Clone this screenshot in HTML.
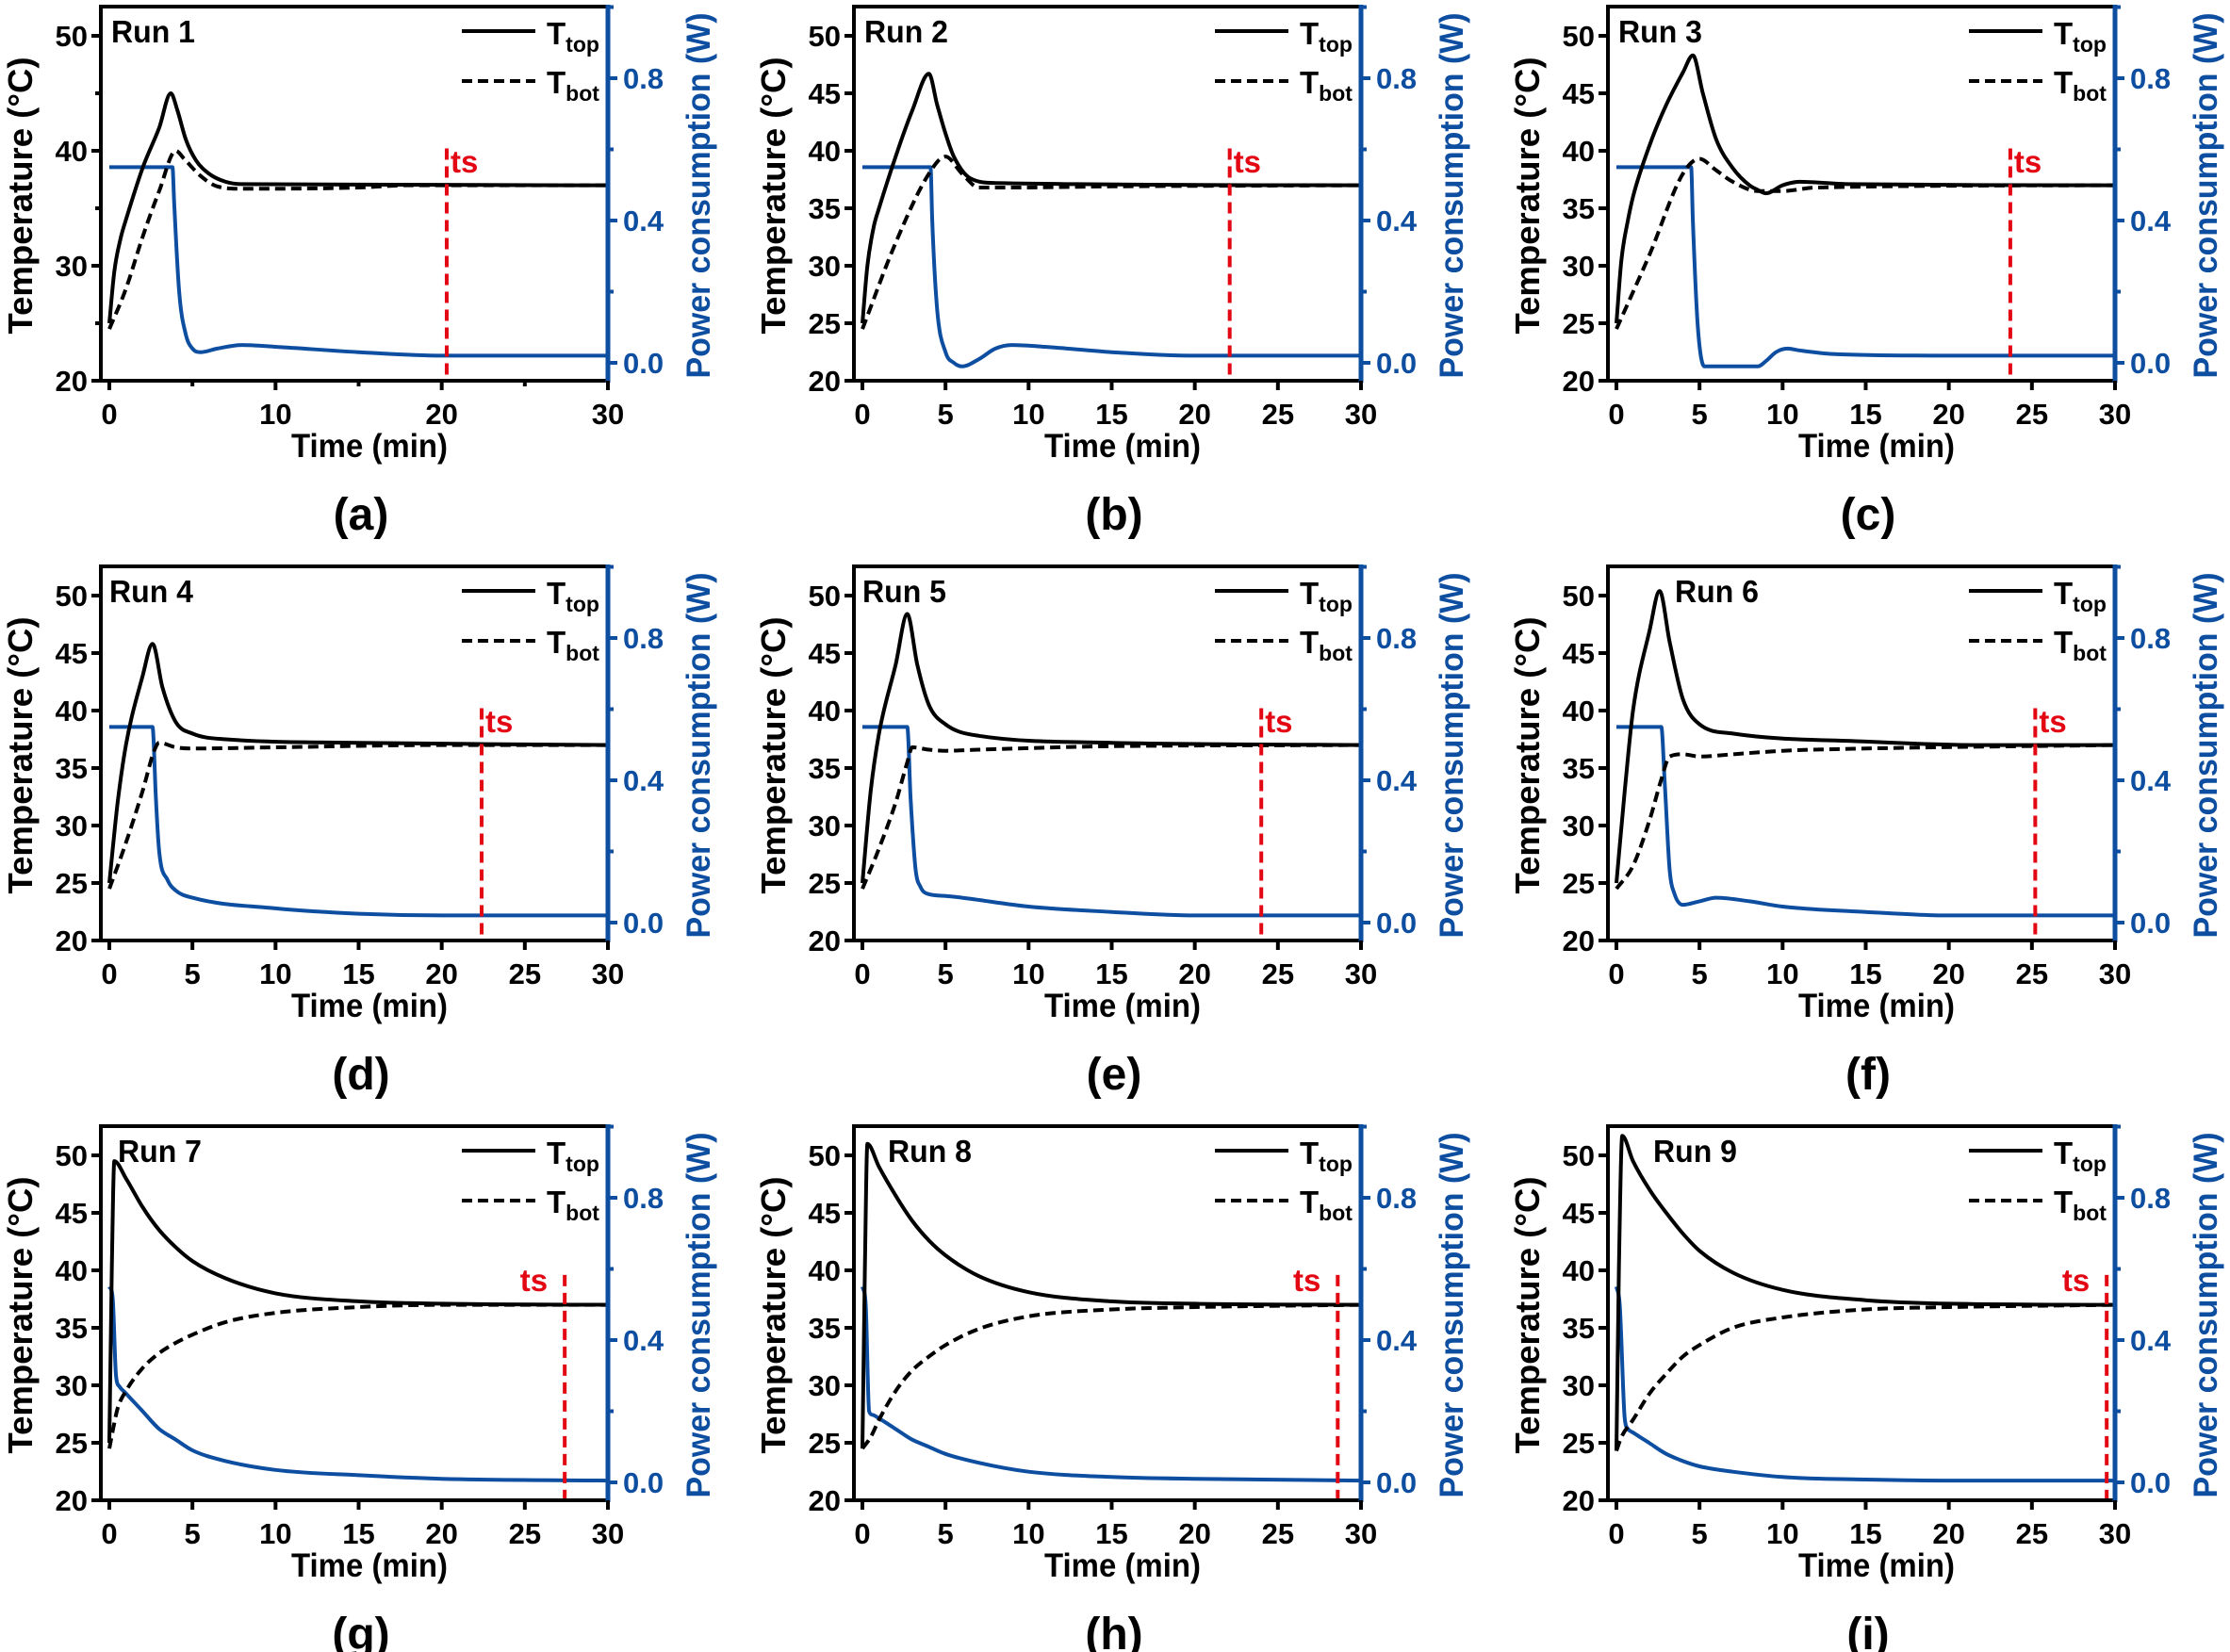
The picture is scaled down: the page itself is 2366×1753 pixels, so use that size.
<!DOCTYPE html>
<html><head><meta charset="utf-8"><style>
html,body{margin:0;padding:0;background:#fff;}
svg{display:block;font-family:"Liberation Sans",Arial,sans-serif;font-weight:bold;}
</style></head><body>
<svg id="fig" width="2366" height="1753" viewBox="0 0 2366 1753" xmlns="http://www.w3.org/2000/svg"></svg>
<script>
// ---- data (time min, value) ----
const run1_top=[[0,25],[0.3,29.5],[0.7,32.5],[1,34],[2,38.5],[3,42],[3.7,45],[4.1,43.5],[4.6,41],[5.2,39.2],[6,38],[7,37.3],[8,37.1],[30,37]];
const run1_bot=[[0,24.5],[1,28],[2,32.5],[3,36.5],[4,40],[4.5,39.3],[5.5,37.8],[6.5,36.9],[8,36.7],[15,36.8],[18,37],[30,37]];
const run1_pow=[[0,0.55],[3.8,0.55],[3.9,0.45],[4.2,0.2],[4.6,0.08],[5,0.04],[5.5,0.03],[6.5,0.04],[8,0.05],[10,0.045],[15,0.03],[20,0.02],[30,0.02]];
const run2_top=[[0,25],[0.3,30],[0.7,33.5],[1,35],[2,39.5],[3,43.5],[4,46.7],[4.5,44],[5,41.5],[5.5,39.5],[6.5,37.6],[8,37.2],[30,37]];
const run2_bot=[[0,24.5],[2,32],[4,38],[5,39.5],[6,38],[7,36.8],[9,36.8],[15,36.9],[30,37]];
const run2_pow=[[0,0.55],[4.1,0.55],[4.2,0.4],[4.5,0.15],[5,0.03],[5.5,0],[6,-0.01],[7,0.01],[8,0.04],[9,0.05],[11,0.045],[15,0.03],[20,0.02],[30,0.02]];
const run3_top=[[0,25],[0.3,30.5],[0.7,34],[1,36],[2,40.5],[3,44],[4,46.8],[4.6,48.3],[5.2,45],[6,41],[7,38.5],[8,37],[8.5,36.6],[9,36.3],[10,37],[11,37.3],[14,37.1],[30,37]];
const run3_bot=[[0,24.5],[2,31],[4,38],[5,39.3],[6,38.3],[7,37.3],[8.5,36.5],[10,36.5],[12,36.8],[30,37]];
const run3_pow=[[0,0.55],[4.5,0.55],[4.6,0.4],[4.9,0.1],[5.3,-0.01],[8.5,-0.01],[9,0.005],[9.6,0.03],[10.3,0.04],[11,0.035],[13,0.025],[20,0.02],[30,0.02]];
const run4_top=[[0,25],[0.5,32],[1,37],[2,43],[2.6,45.8],[3.2,42],[4,39],[5,38],[7,37.5],[15,37.2],[30,37]];
const run4_bot=[[0,24.5],[1,28.5],[2,33],[2.7,36.5],[3,37.2],[4,36.8],[5,36.7],[10,36.8],[20,37],[30,37]];
const run4_pow=[[0,0.55],[2.6,0.55],[2.8,0.35],[3,0.2],[3.5,0.12],[4,0.09],[5,0.07],[10,0.04],[15,0.025],[20,0.02],[30,0.02]];
const run5_top=[[0,25],[0.5,33],[1,38],[2,44],[2.7,48.4],[3.3,44],[4,40.5],[5,38.8],[7,37.8],[15,37.2],[30,37]];
const run5_bot=[[0,24.5],[1,28],[2,32],[2.7,35.5],[3,36.8],[4,36.6],[5,36.5],[7,36.6],[15,36.9],[30,37]];
const run5_pow=[[0,0.55],[2.7,0.55],[2.9,0.35],[3.2,0.15],[3.5,0.1],[4,0.08],[5,0.075],[6,0.07],[10,0.045],[15,0.03],[20,0.02],[30,0.02]];
const run6_top=[[0,25],[0.5,33],[1,40],[2,47],[2.6,50.4],[3.2,46],[4,41],[5,38.8],[7,38],[15,37.3],[22,37],[30,37]];
const run6_bot=[[0,24.5],[1,26.5],[2,30.5],[2.7,34],[3.2,36],[4,36.2],[5,36],[7,36.2],[10,36.5],[15,36.7],[30,37]];
const run6_pow=[[0,0.55],[2.7,0.55],[2.9,0.4],[3.2,0.15],[3.5,0.08],[4,0.05],[5,0.06],[6,0.07],[8,0.06],[10,0.045],[15,0.03],[20,0.02],[30,0.02]];
const run7_top=[[0,25],[0.15,40],[0.3,49.5],[1,48],[2,45.5],[3,43.5],[4,42],[5,40.8],[7,39.3],[10,38],[15,37.3],[20,37.1],[30,37]];
const run7_bot=[[0,24.5],[0.2,26],[0.5,28],[1,29.5],[2,31.5],[3,32.8],[4,33.7],[5,34.4],[7,35.5],[10,36.3],[15,36.8],[20,37],[30,37]];
const run7_pow=[[0,0.55],[0.2,0.52],[0.4,0.3],[0.6,0.27],[1,0.25],[2,0.2],[3,0.15],[4,0.12],[5,0.09],[7,0.06],[10,0.035],[15,0.02],[20,0.01],[30,0.005]];
const run8_top=[[0,24.5],[0.15,40],[0.3,51],[1,49],[2,46.5],[3,44.3],[4,42.6],[5,41.3],[7,39.5],[10,38.1],[15,37.3],[20,37.1],[30,37]];
const run8_bot=[[0,24.5],[0.5,25.5],[1,27],[2,29.5],[3,31.3],[4,32.5],[5,33.5],[7,34.9],[10,36],[15,36.6],[20,36.8],[30,37]];
const run8_pow=[[0,0.55],[0.2,0.5],[0.4,0.2],[0.6,0.19],[1,0.18],[2,0.15],[3,0.12],[4,0.1],[5,0.08],[7,0.055],[10,0.03],[15,0.015],[20,0.01],[30,0.005]];
const run9_top=[[0,24.3],[0.15,40],[0.35,51.7],[1,49.5],[2,47],[3,45],[4,43.2],[5,41.7],[7,39.8],[10,38.3],[15,37.4],[20,37.1],[30,37]];
const run9_bot=[[0,24.3],[0.3,25.5],[1,27],[2,29.3],[3,31],[4,32.5],[5,33.5],[7,35],[10,35.9],[15,36.6],[20,36.8],[30,37]];
const run9_pow=[[0,0.55],[0.2,0.5],[0.5,0.18],[0.7,0.15],[1,0.14],[2,0.11],[3,0.08],[4,0.06],[5,0.045],[7,0.03],[10,0.015],[15,0.008],[20,0.005],[30,0.005]];
const runNames=["Run 1","Run 2","Run 3","Run 4","Run 5","Run 6","Run 7","Run 8","Run 9"];
const panelLabels=["(a)","(b)","(c)","(d)","(e)","(f)","(g)","(h)","(i)"];
const tsValues=[20.3,22.1,23.7,22.4,24.0,25.2,27.4,28.6,29.5];
const tempTicks=[20,25,30,35,40,45,50];
const timeTicks=[0,5,10,15,20,25,30];
const powTicks=[0.0,0.4,0.8];
const powMinor=[0.2,0.6,1.0];

const tops=[run1_top,run2_top,run3_top,run4_top,run5_top,run6_top,run7_top,run8_top,run9_top];
const bots=[run1_bot,run2_bot,run3_bot,run4_bot,run5_bot,run6_bot,run7_bot,run8_bot,run9_bot];
const pows=[run1_pow,run2_pow,run3_pow,run4_pow,run5_pow,run6_pow,run7_pow,run8_pow,run9_pow];

const NS="http://www.w3.org/2000/svg";
const svg=document.getElementById('fig');
const BLUE="#0d4ea0", RED="#e30613";
function mk(tag,attrs,parent,text){const e=document.createElementNS(NS,tag);for(const k in attrs)e.setAttribute(k,attrs[k]);if(text!==undefined)e.textContent=text;parent.appendChild(e);return e;}

// monotone cubic (Fritsch-Carlson) path in pixel space
function monoPath(P){
  const n=P.length; if(n<2) return '';
  const d=[],m=[];
  for(let k=0;k<n-1;k++){const dx=P[k+1][0]-P[k][0];d.push(dx===0?0:(P[k+1][1]-P[k][1])/dx);}
  m[0]=d[0]; m[n-1]=d[n-2];
  for(let k=1;k<n-1;k++){m[k]=(d[k-1]*d[k]<=0)?0:(d[k-1]+d[k])/2;}
  for(let k=0;k<n-1;k++){
    if(d[k]===0){m[k]=0;m[k+1]=0;continue;}
    const a=m[k]/d[k],b=m[k+1]/d[k],s=a*a+b*b;
    if(s>9){const t=3/Math.sqrt(s);m[k]=t*a*d[k];m[k+1]=t*b*d[k];}
  }
  let s='M'+P[0][0].toFixed(1)+' '+P[0][1].toFixed(1);
  for(let k=0;k<n-1;k++){
    const h=(P[k+1][0]-P[k][0])/3;
    s+=' C'+(P[k][0]+h).toFixed(1)+' '+(P[k][1]+m[k]*h).toFixed(1)+' '+(P[k+1][0]-h).toFixed(1)+' '+(P[k+1][1]-m[k+1]*h).toFixed(1)+' '+P[k+1][0].toFixed(1)+' '+P[k+1][1].toFixed(1);
  }
  return s;
}

const L=107,R=645,T=7,B=404,X0=116;
for(let i=0;i<9;i++){
  const dx=[0,799,1599][i%3], dy=[0,594,1188][Math.floor(i/3)];
  const g=mk('g',{transform:`translate(${dx},${dy})`},svg);
  
  
  const sx=t=>X0+(t/30)*(R-X0);
  const sy=v=>38+(50-v)/30*(B-38);
  const sp=p=>385-p/0.8*(385-83);
  const sparse=(i===0);
  const path=(arr,f)=>monoPath(arr.map(p=>[sx(p[0]),f(p[1])]));
  let e=mk('path',{d:path(pows[i],sp),fill:'none',stroke:BLUE,'stroke-width':4,'stroke-linejoin':'round'},g);
  
  
  e=mk('path',{d:path(bots[i],sy),fill:'none',stroke:'#000','stroke-width':4,'stroke-dasharray':'11 6'},g);
  
  
  e=mk('path',{d:path(tops[i],sy),fill:'none',stroke:'#000','stroke-width':4,'stroke-linejoin':'round'},g);
  
  
  const tx=sx(tsValues[i]);
  const late=i>=6;
  e=mk('line',{x1:tx,x2:tx,y1:late?sy(39.6):sy(40.2),y2:B,stroke:RED,'stroke-width':4,'stroke-dasharray':'12 7'},g);
  
  
  e=mk('text',{x:late?tx-18:tx+4,y:late?sy(38.2):sy(38.1),fill:RED,'font-size':33,'text-anchor':late?'end':'start'},g,'ts');
  
  
  mk('rect',{x:L,y:T,width:R-L,height:B-T,fill:'none',stroke:'#000','stroke-width':4},g);
  e=mk('line',{x1:R,x2:R,y1:T-2,y2:B+2,stroke:BLUE,'stroke-width':5},g);
  
  
  tempTicks.forEach(v=>{
    const y=sy(v); const lab=!sparse||v%10===0;
    mk('line',{x1:L-(lab?10:6),x2:L,y1:y,y2:y,stroke:'#000','stroke-width':4},g);
    if(lab){const t=mk('text',{x:L-14,y:y+11,'font-size':31,'text-anchor':'end'},g,String(v));
      
      }
  });
  timeTicks.forEach(v=>{
    const x=sx(v); const lab=!sparse||v%10===0;
    mk('line',{x1:x,x2:x,y1:B,y2:B+(lab?10:6),stroke:'#000','stroke-width':4},g);
    if(lab){const t=mk('text',{x:x,y:B+46,'font-size':31,'text-anchor':'middle'},g,String(v));
      
      }
  });
  powTicks.forEach(v=>{
    const y=sp(v);
    mk('line',{x1:R,x2:R+10,y1:y,y2:y,stroke:BLUE,'stroke-width':4},g);
    const t=mk('text',{x:R+16,y:y+11,'font-size':31,fill:BLUE},g,v.toFixed(1));
    
    
  });
  powMinor.forEach(v=>{const y=sp(v);mk('line',{x1:R,x2:R+6,y1:y,y2:y,stroke:BLUE,'stroke-width':4},g);});
  e=mk('text',{x:(L+R)/2+16,y:485,'font-size':35,'text-anchor':'middle',textLength:166,lengthAdjust:'spacingAndGlyphs'},g,'Time (min)');
  
  
  e=mk('text',{x:0,y:0,'font-size':36,'text-anchor':'middle',textLength:294,lengthAdjust:'spacingAndGlyphs',transform:`translate(34,${(T+B)/2+2}) rotate(-90)`},g,'Temperature (°C)');
  
  
  e=mk('text',{x:0,y:0,'font-size':35,'text-anchor':'middle',fill:BLUE,textLength:388,lengthAdjust:'spacingAndGlyphs',transform:`translate(753,${(T+B)/2+2}) rotate(-90)`},g,'Power consumption (W)');
  
  
  const rx=[118,118,118,116,116,178,125,143,155][i];
  e=mk('text',{x:rx,y:45,'font-size':33,textLength:89,lengthAdjust:'spacingAndGlyphs'},g,runNames[i]);
  
  
  mk('line',{x1:490,x2:568,y1:33,y2:33,stroke:'#000','stroke-width':4},g);
  let t=mk('text',{x:580,y:47,'font-size':33},g);
  
  
  t.innerHTML='T<tspan font-size="23" dy="8">top</tspan>';
  mk('line',{x1:490,x2:568,y1:86,y2:86,stroke:'#000','stroke-width':4,'stroke-dasharray':'11 6'},g);
  t=mk('text',{x:580,y:99,'font-size':33},g);
  
  
  t.innerHTML='T<tspan font-size="23" dy="8">bot</tspan>';
  e=mk('text',{x:383,y:562,'font-size':48,'text-anchor':'middle'},g,panelLabels[i]);
  
  
}
</script>
</body></html>
